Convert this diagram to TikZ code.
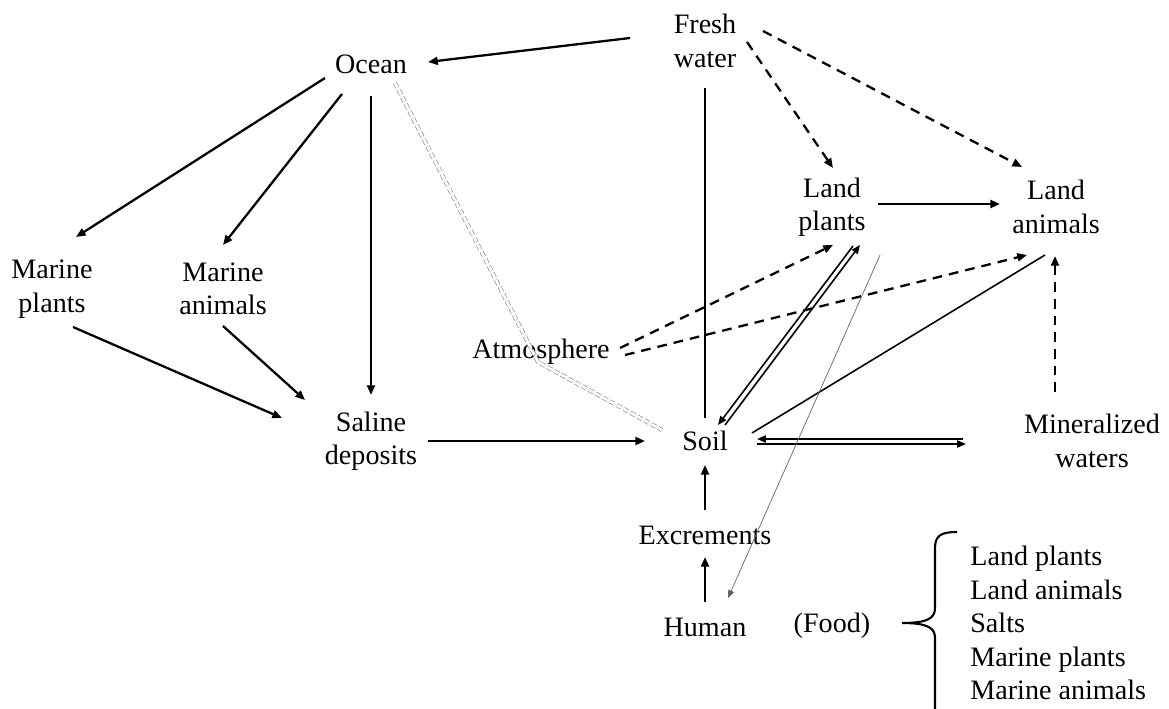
\documentclass[tikz,border=0pt]{standalone}
\usepackage{fontspec}
\setmainfont{Liberation Serif}
\usetikzlibrary{arrows.meta,calc}
\tikzset
{
    txt/.style = {font=\fontsize{16}{19}\selectfont, align=center, inner sep=0pt},
    arrowline/.style = {-{Triangle[length=5.5pt,width=4.5pt]}, line width=1.3pt},
    dashline/.style = {arrowline, dash pattern=on 5.5pt off 4pt},
    plainline/.style = {line width=0.9pt},
    pairarrow/.style = {-{Triangle[length=5pt,width=4pt]}, line width=0.9pt},
    foodarrow/.style = {-{Triangle[length=4.5pt,width=3.5pt]}, line width=0.4pt, draw=black!60},
    saltline/.style = {draw=gray, line width=0.35pt, double=white, double distance=1.6pt, dash pattern=on 3pt off 1.5pt, line join=round}
}

\begin{document}
\begin{tikzpicture}[x=0.02cm, y=-0.02cm]
\useasboundingbox (0,0) rectangle (1169,709);
\node[txt] (fresh) at (705,41) {Fresh\\water};
\node[txt] (ocean) at (371,64) {Ocean};
\node[txt] (mplants) at (52,289) {Marine\\plants};
\node[txt] (manimals) at (223,289) {Marine\\animals};
\node[txt] (saline) at (371,441) {Saline\\deposits};
\node[txt] (atmos) at (541,352) {Atmosphere};
\node[txt] (soil) at (705,441) {Soil};
\node[txt] (lplants) at (832,207) {Land\\plants};
\node[txt] (lanimals) at (1056,207) {Land\\animals};
\node[txt] (mineral) at (1092,441) {Mineralized\\waters};
\node[txt] (excr) at (705,535) {Excrements};
\node[txt] (human) at (705,627) {Human};
\node[txt] (food) at (832,626) {(Food)};
\node[txt, align=left, anchor=west] (foodlist) at (970,623) {Land plants\\Land animals\\Salts\\Marine plants\\Marine animals};

\draw[arrowline] ($(fresh)+(-75,-3)$) -- ($(ocean)+(57,-2)$);
\draw[arrowline] ($(ocean)+(-46,14)$) -- ($(mplants)+(24,-52)$);
\draw[arrowline] ($(ocean)+(-29,30)$) -- ($(manimals)+(0,-44)$);
\draw[arrowline] ($(ocean)+(0,32)$) -- ($(saline)+(0,-46)$);
\draw[arrowline] ($(mplants)+(21,38)$) -- ($(saline)+(-89,-23)$);
\draw[arrowline] ($(manimals)+(0,37)$) -- ($(saline)+(-66,-41)$);
\draw[arrowline] ($(saline)+(57,0)$) -- ($(soil)+(-60,0)$);
\draw[arrowline, -] ($(fresh)+(0,47)$) -- ($(soil)+(0,-23)$);
\draw[dashline] ($(fresh)+(42,1)$) -- ($(lplants)+(1,-39)$);
\draw[dashline] ($(fresh)+(58,-10)$) -- ($(lanimals)+(-34,-40)$);
\draw[arrowline] ($(lplants)+(46,-3)$) -- ($(lanimals)+(-56,-3)$);
\draw[dashline] ($(atmos)+(79,-4)$) -- ($(lplants)+(1,38)$);
\draw[dashline] ($(atmos)+(84,3)$) -- ($(lanimals)+(-29,48)$);
\draw[dashline] ($(mineral)+(-37,-49)$) -- ($(lanimals)+(-1,49)$);
\draw[saltline] ($(ocean)+(24,19)$) -- ($(atmos)+(-3,10)$) -- ($(soil)+(-43,-11)$);
\draw[pairarrow] ($(lplants)+(21,39)$) -- ($(soil)+(13,-16)$);
\draw[pairarrow] ($(soil)+(20,-16)$) -- ($(lplants)+(28,38)$);
\draw[plainline] ($(soil)+(47,-8)$) -- ($(lanimals)+(-11,48)$);
\draw[pairarrow] ($(mineral)+(-129,-2)$) -- ($(soil)+(52,-2)$);
\draw[pairarrow] ($(soil)+(52,3)$) -- ($(mineral)+(-126,3)$);
\draw[foodarrow] ($(lplants)+(48,48)$) -- ($(human)+(23,-29)$);
\draw[arrowline] ($(excr)+(0,-25)$) -- ($(soil)+(0,24)$);
\draw[arrowline] ($(human)+(0,-25)$) -- ($(excr)+(0,22)$);
\draw[line width=1.2pt] (957,532) .. controls (942,532) and (935,535) .. (935,548) -- (935,608)
  .. controls (935,618) and (928,623) .. (902,623)
  .. controls (928,623) and (935,628) .. (935,638) -- (935,709);
\end{tikzpicture}
\end{document}
